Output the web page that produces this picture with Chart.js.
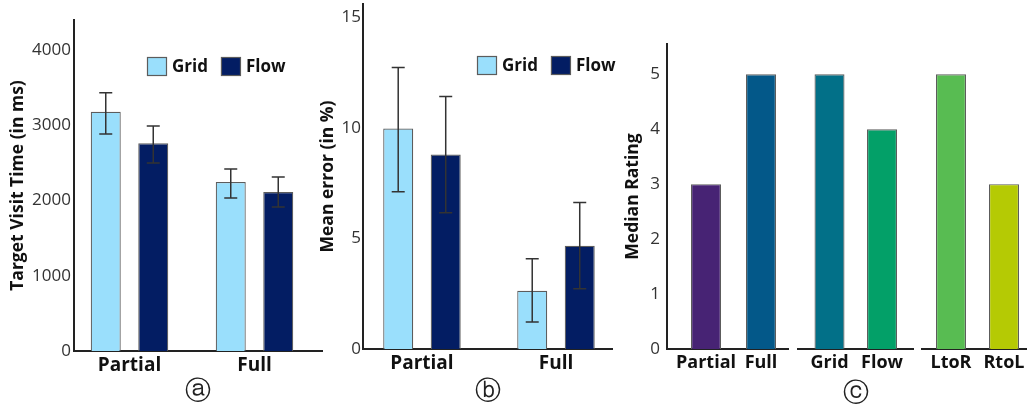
<!DOCTYPE html>
<html><head><meta charset="utf-8">
<script src="https://cdn.jsdelivr.net/npm/chart.js@4.4.1/dist/chart.umd.min.js"></script>
<style>
html,body{margin:0;padding:0;background:#fff;width:1027px;height:408px;overflow:hidden}
#wrap{position:relative;width:1027px;height:408px;background:#fff}
canvas{position:absolute;left:0;top:0}
</style></head>
<body><div id="wrap">
<canvas id="ca" width="1027" height="408"></canvas>
<canvas id="cb" width="1027" height="408"></canvas>
<canvas id="cc1" width="1027" height="408"></canvas>
<canvas id="cc2" width="1027" height="408"></canvas>
<canvas id="cc3" width="1027" height="408"></canvas>
</div>
<script>
// ---------- data ----------
const conditions = ['Partial', 'Full'];
const seriesNames = ['Grid', 'Flow'];
// (a) target visit time, ms
const visitGrid = [3180, 2246];
const visitFlow = [2760, 2113];
const visitGridLow = [2884, 2033];
const visitGridHigh = [3433, 2419];
const visitFlowLow = [2498, 1914];
const visitFlowHigh = [2990, 2312];
const visitTicks = [0, 1000, 2000, 3000, 4000];
// (b) mean error, %
const errorGrid = [9.97, 2.63];
const errorFlow = [8.79, 4.67];
const errorGridLow = [7.11, 1.22];
const errorGridHigh = [12.73, 4.08];
const errorFlowLow = [6.16, 2.72];
const errorFlowHigh = [11.42, 6.62];
const errorTicks = [0, 5, 10, 15];
// (c) median ratings
const ratingLabels1 = ['Partial', 'Full'];
const ratingValues1 = [3, 5];
const ratingLabels2 = ['Grid', 'Flow'];
const ratingValues2 = [5, 4];
const ratingLabels3 = ['LtoR', 'RtoL'];
const ratingValues3 = [5, 3];
const ratingTicks = [0, 1, 2, 3, 4, 5];

// ---------- styles ----------
Chart.defaults.font.family = "'Open Sans', sans-serif";
const GRID_COL = '#9ADFFC', FLOW_COL = '#031D63', EDGE = '#5c5c5c', AXIS = '#222';
const ratingColors1 = ['#472374', '#035889'];
const ratingColors2 = ['#027088', '#03A068'];
const ratingColors3 = ['#58BC52', '#B5CA04'];

const toXY = arr => arr.map((v, i) => ({x: i, y: v}));

const errorBars = {
  id: 'errorBars',
  afterDatasetsDraw(chart) {
    const ys = chart.scales.y, ctx = chart.ctx;
    chart.data.datasets.forEach((ds, di) => {
      if (!ds.errLow) return;
      const meta = chart.getDatasetMeta(di);
      meta.data.forEach((bar, i) => {
        const x = bar.x, yl = ys.getPixelForValue(ds.errLow[i]), yh = ys.getPixelForValue(ds.errHigh[i]);
        ctx.save();
        ctx.strokeStyle = '#333'; ctx.lineWidth = 1.5;
        ctx.beginPath();
        ctx.moveTo(x, yl); ctx.lineTo(x, yh);
        ctx.moveTo(x - 6.5, yl); ctx.lineTo(x + 6.5, yl);
        ctx.moveTo(x - 6.5, yh); ctx.lineTo(x + 6.5, yh);
        ctx.stroke();
        ctx.restore();
      });
    });
  }
};

const boxLegend = {
  id: 'boxLegend',
  afterDraw(chart, args, o) {
    if (!o || !o.show) return;
    const ctx = chart.ctx;
    ctx.save();
    ctx.font = 'bold 17px "Open Sans", sans-serif';
    ctx.textBaseline = 'middle';
    let x = o.left;
    chart.data.datasets.forEach(ds => {
      ctx.fillStyle = ds.backgroundColor;
      ctx.fillRect(x, o.top, o.boxW, o.boxH);
      ctx.strokeStyle = ds.borderColor; ctx.lineWidth = 1.2;
      ctx.strokeRect(x + 0.5, o.top + 0.5, o.boxW - 1, o.boxH - 1);
      ctx.fillStyle = '#111';
      ctx.fillText(ds.label, x + o.boxW + o.gap, o.top + o.boxH / 2 + 1);
      x += o.boxW + o.gap + ctx.measureText(ds.label).width + o.spacing;
    });
    ctx.restore();
  }
};

function xAxis(labels, min, max, h, title, fontSize, titlePad) {
  return {
    type: 'linear', min, max, offset: false,
    afterBuildTicks: s => { s.ticks = labels.map((l, i) => ({value: i})); },
    afterFit: s => { s.height = h; s.paddingLeft = 0; s.paddingRight = 0; },
    grid: {display: false, drawTicks: false, offset: false},
    border: {display: true, color: AXIS, width: 2},
    ticks: {callback: v => labels[v], font: {size: fontSize, weight: 'bold'}, color: '#111', padding: 3, autoSkip: false, maxRotation: 0},
    title: {display: !!title, text: title || '', font: {family: 'DejaVu Sans', size: 26}, color: '#222', padding: {top: 0, bottom: titlePad}}
  };
}
function yAxis(tickVals, max, w, title, pad, fontSize, titlePadTop, show) {
  return {
    display: true, min: 0, max,
    afterBuildTicks: s => { s.ticks = tickVals.map(v => ({value: v})); },
    afterFit: s => { s.width = show ? w : 0; s.paddingTop = 0; s.paddingBottom = 0; },
    grid: {display: false, drawTicks: false},
    border: {display: show, color: AXIS, width: 2},
    ticks: {display: show, callback: v => String(v), font: {size: fontSize}, color: '#333', padding: pad},
    title: {display: show && !!title, text: title || '', font: {size: 17.5, weight: 'bold'}, color: '#111', padding: {top: titlePadTop, bottom: 0}}
  };
}
const base = {responsive: false, animation: false, events: []};

// (a)
new Chart(document.getElementById('ca'), {
  type: 'bar',
  data: {datasets: [
    {label: seriesNames[0], data: toXY(visitGrid), errLow: visitGridLow, errHigh: visitGridHigh, backgroundColor: GRID_COL, borderColor: EDGE, borderWidth: 1.2},
    {label: seriesNames[1], data: toXY(visitFlow), errLow: visitFlowLow, errHigh: visitFlowHigh, backgroundColor: FLOW_COL, borderColor: EDGE, borderWidth: 1.2}
  ]},
  options: Object.assign({}, base, {
    categoryPercentage: 0.76, barPercentage: 0.6316,
    layout: {padding: {left: 0, top: 20, right: 705, bottom: 0}},
    scales: {
      x: xAxis(conditions, -0.444, 1.54, 57, 'ⓐ', 19, 0),
      y: yAxis(visitTicks, 4400, 74, 'Target Visit Time (in ms)', 3, 17, 8, true)
    },
    plugins: {legend: {display: false}, tooltip: {enabled: false},
      boxLegend: {show: true, left: 147, top: 57, boxW: 20, boxH: 19, gap: 5, spacing: 13}}
  }),
  plugins: [errorBars, boxLegend]
});

// (b)
new Chart(document.getElementById('cb'), {
  type: 'bar',
  data: {datasets: [
    {label: seriesNames[0], data: toXY(errorGrid), errLow: errorGridLow, errHigh: errorGridHigh, backgroundColor: GRID_COL, borderColor: EDGE, borderWidth: 1.2},
    {label: seriesNames[1], data: toXY(errorFlow), errLow: errorFlowLow, errHigh: errorFlowHigh, backgroundColor: FLOW_COL, borderColor: EDGE, borderWidth: 1.2}
  ]},
  options: Object.assign({}, base, {
    categoryPercentage: 0.709, barPercentage: 0.6316,
    layout: {padding: {left: 310, top: 4, right: 415, bottom: 0}},
    scales: {
      x: xAxis(conditions, -0.440, 1.418, 59, 'ⓑ', 19, 0),
      y: yAxis(errorTicks, 15.6, 53, 'Mean error (in %)', 2, 17, 8, true)
    },
    plugins: {legend: {display: false}, tooltip: {enabled: false},
      boxLegend: {show: true, left: 477, top: 56, boxW: 20, boxH: 19, gap: 5, spacing: 13}}
  }),
  plugins: [errorBars, boxLegend]
});

// (c)
function ratingChart(id, labels, values, colors, padL, padR, xmin, xmax, bp, yShow, title) {
  return new Chart(document.getElementById(id), {
    type: 'bar',
    data: {datasets: [{label: 'Median Rating', data: toXY(values), backgroundColor: colors, borderColor: EDGE, borderWidth: 1.2}]},
    options: Object.assign({}, base, {
      categoryPercentage: 1, barPercentage: bp,
      layout: {padding: {left: padL, top: 44, right: padR, bottom: 0}},
      scales: {
        x: xAxis(labels, xmin, xmax, 59, title, 18, -2),
        y: yAxis(ratingTicks, 5.55, 47, yShow ? 'Median Rating' : '', 7, 17, 3, yShow)
      },
      plugins: {legend: {display: false}, tooltip: {enabled: false}}
    })
  });
}
ratingChart('cc1', ratingLabels1, ratingValues1, ratingColors1, 620, 239, -0.709, 1.491, 0.5455, true, '');
ratingChart('cc2', ratingLabels2, ratingValues2, ratingColors2, 798, 114, -0.6, 1.59, 0.5714, false, 'ⓒ');
ratingChart('cc3', ratingLabels3, ratingValues3, ratingColors3, 922, 0, -0.547, 1.434, 0.566, false, '');
</script>
</body></html>
